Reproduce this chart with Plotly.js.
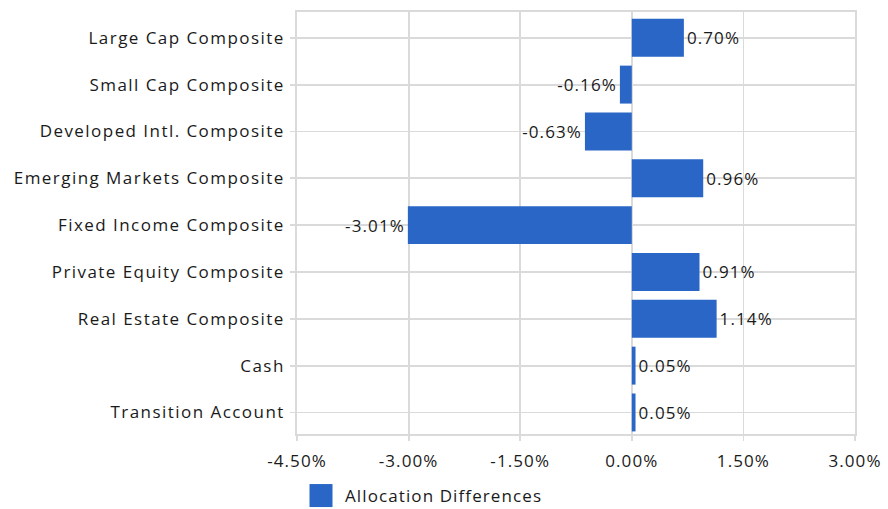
<!DOCTYPE html>
<html>
<head>
<meta charset="utf-8">
<script src="https://cdn.plot.ly/plotly-3.0.1.min.js"></script>
<style>
html,body{margin:0;padding:0;background:#fff;}
#chart{width:888px;height:509px;}
svg text{letter-spacing:1.1px;}
#chart .ytick text{letter-spacing:1.45px;}
</style>
</head>
<body>
<div id="chart"></div>
<script>
const categories = [
  "Large Cap Composite",
  "Small Cap Composite",
  "Developed Intl. Composite",
  "Emerging Markets Composite",
  "Fixed Income Composite",
  "Private Equity Composite",
  "Real Estate Composite",
  "Cash",
  "Transition Account"
];
const allocationDifferences = [0.70, -0.16, -0.63, 0.96, -3.01, 0.91, 1.14, 0.05, 0.05];
const seriesName = "Allocation Differences";
const xTicks = [-4.5, -3.0, -1.5, 0.0, 1.5, 3.0];

const FONT = "Open Sans, Noto Sans, sans-serif";
const TEXT = "#1a1a1a";
const GRID = "#dadada";
const FS = 17;

const trace = {
  type: "bar",
  orientation: "h",
  name: seriesName,
  y: categories,
  x: allocationDifferences,
  width: 0.81,
  marker: {color: "#2966c6"},
  text: allocationDifferences.map(v => v.toFixed(2) + "%"),
  textposition: "outside",
  cliponaxis: false,
  textfont: {family: FONT, size: FS, color: TEXT},
  hoverinfo: "skip"
};

const layout = {
  width: 888, height: 509,
  margin: {l: 297, r: 33, t: 12, b: 75},
  paper_bgcolor: "#fff", plot_bgcolor: "#fff",
  font: {family: FONT, size: FS, color: TEXT},
  showlegend: true,
  legend: {orientation: "h", x: 0.0, xref: "paper", y: 0, yref: "container",
           xanchor: "left", yanchor: "bottom", itemwidth: 38,
           font: {family: FONT, size: FS, color: TEXT}},
  xaxis: {
    range: [-4.5, 3.0],
    tickvals: xTicks,
    ticktext: xTicks.map(v => v.toFixed(2) + "%"),
    showgrid: true, gridcolor: GRID, gridwidth: 1.8,
    zeroline: false,
    showline: true, linecolor: GRID, linewidth: 1.8, mirror: true,
    ticks: "outside", ticklen: 5, tickcolor: GRID, tickwidth: 1.8,
    ticklabelstandoff: 6,
    tickfont: {family: FONT, size: FS, color: TEXT},
    automargin: false,
    fixedrange: true
  },
  yaxis: {
    type: "category",
    categoryorder: "array", categoryarray: categories,
    range: [8.46, -0.55],
    showgrid: true, gridcolor: GRID, gridwidth: 1.8,
    showline: true, linecolor: GRID, linewidth: 1.8, mirror: true,
    ticks: "outside", ticklen: 5, tickcolor: GRID, tickwidth: 1.8,
    ticklabelstandoff: 2,
    tickfont: {family: FONT, size: FS, color: TEXT},
    automargin: false,
    fixedrange: true
  },
  bargap: 0.19
};

Plotly.newPlot("chart", [trace], layout, {displayModeBar: false, staticPlot: true}).then(() => {
  document.querySelectorAll(".legendpoints path").forEach(p => {
    p.setAttribute("d", "M11.5,11.5H-11.5V-11.5H11.5Z");
  });
  const lg = document.querySelector("#chart g.legend");
  if (lg) {
    const t = lg.getAttribute("transform") || "";
    const m = t.match(/translate\(\s*([-\d.]+)[ ,]+([-\d.]+)\s*\)/);
    if (m) lg.setAttribute("transform", "translate(" + m[1] + "," + (parseFloat(m[2]) + 5) + ")");
  }
});
</script>
</body>
</html>
